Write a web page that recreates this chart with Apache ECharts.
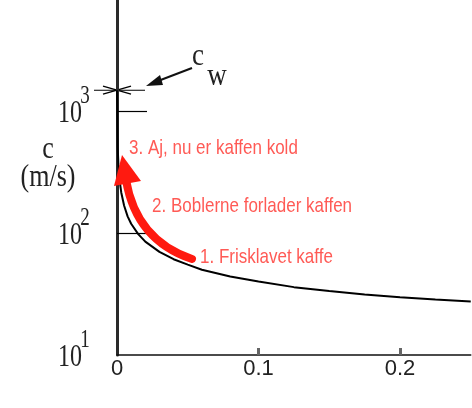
<!DOCTYPE html>
<html>
<head>
<meta charset="utf-8">
<script src="https://cdn.jsdelivr.net/npm/echarts@6/dist/echarts.min.js"></script>
<style>
  html, body { margin: 0; padding: 0; background: #fff; }
  #chart { width: 472px; height: 408px; }
</style>
</head>
<body>
<div id="chart"></div>
<script>
// gas fraction (x) and speed of sound c (m/s)
const xVals = [0, 0.0005, 0.001, 0.002, 0.003, 0.005, 0.0075, 0.01, 0.015, 0.02, 0.03, 0.04, 0.05, 0.06, 0.08, 0.1, 0.125, 0.15, 0.175, 0.2, 0.225, 0.25];
const cVals = [1480, 500, 365, 262, 215, 168, 137, 119, 98, 85, 70, 61, 55, 50, 44, 40, 36, 33.5, 31.3, 29.8, 28.5, 27.5];
const cw = 1480;

const xTicks = [0, 0.1, 0.2];
const yLabelTicks = [10, 100, 1000];
const yLineTicks = [100, 1000];

const notes = ['1. Frisklavet kaffe', '2. Boblerne forlader kaffen', '3. Aj, nu er kaffen kold'];

const chart = echarts.init(document.getElementById('chart'));

chart.setOption({
    animation: false,
    grid: { left: 117, right: 1.25, top: 0, bottom: 53 },
    xAxis: {
        type: 'value',
        min: 0,
        max: 0.25,
        splitLine: { show: false },
        axisLine: { lineStyle: { color: '#111', width: 1.5 } },
        axisTick: { inside: true, length: 7, customValues: [0.1, 0.2], lineStyle: { color: '#666', width: 3 } },
        axisLabel: {
            customValues: xTicks,
            margin: 3,
            color: '#222',
            fontSize: 22,
            fontFamily: 'Liberation Sans',
            formatter: (v) => String(v),
        },
    },
    yAxis: {
        type: 'log',
        logBase: 10,
        min: 10,
        max: 8128,
        splitLine: { show: false },
        axisLine: { lineStyle: { color: '#2a2a2a', width: 3 } },
        axisTick: { inside: true, length: 30, customValues: yLineTicks, lineStyle: { color: '#000', width: 1.2 } },
        axisLabel: { show: false },
    },
    series: [
        {
            type: 'line',
            data: xVals.map((x, i) => [x, cVals[i]]),
            showSymbol: false,
            lineStyle: { color: '#000', width: 2 },
            z: 1,
        },
    ],
});

// y-etiketter 10^n placeret via aksens skala
const serif = { fill: '#222', fontFamily: 'Liberation Serif', textAlign: 'center', textVerticalAlign: 'middle' };
const yLabels = [];
yLabelTicks.forEach((v) => {
    const py = chart.convertToPixel({ yAxisIndex: 0 }, v);
    yLabels.push({ type: 'text', x: 70, y: py + 3, scaleY: 1.3, style: Object.assign({ text: '10', fontSize: 24 }, serif) });
    yLabels.push({ type: 'text', x: 85, y: py - 14, scaleY: 1.3, style: Object.assign({ text: String(Math.round(Math.log10(v))), fontSize: 19 }, serif) });
});

// c_w markering og annoteringer
const p0 = chart.convertToPixel({ gridIndex: 0 }, [0, cw]);
const red = '#ff5a55';
const noteStyle = { fill: red, fontSize: 17, fontFamily: 'Liberation Sans', textVerticalAlign: 'middle' };

chart.setOption({
    graphic: yLabels.concat([
        // kryds ved c_w
        { type: 'line', shape: { x1: p0[0] - 14, y1: p0[1] - 4, x2: p0[0] + 14, y2: p0[1] + 4 }, style: { stroke: '#000', lineWidth: 1.3 } },
        { type: 'line', shape: { x1: p0[0] - 14, y1: p0[1] + 4, x2: p0[0] + 14, y2: p0[1] - 4 }, style: { stroke: '#000', lineWidth: 1.3 } },
        { type: 'line', shape: { x1: p0[0] - 23, y1: p0[1], x2: p0[0] + 28, y2: p0[1] }, style: { stroke: '#000', lineWidth: 1.2 } },
        // pil mod c_w
        { type: 'line', shape: { x1: 192, y1: 68, x2: 158, y2: 81 }, style: { stroke: '#111', lineWidth: 2 } },
        { type: 'polygon', shape: { points: [[146, 86], [160, 75], [163, 85]] }, style: { fill: '#111' } },
        { type: 'text', x: 198, y: 56, scaleY: 1.2, style: Object.assign({ text: 'c', fontSize: 27 }, serif) },
        { type: 'text', x: 217, y: 76, scaleY: 1.2, style: Object.assign({ text: 'w', fontSize: 27 }, serif) },
        // akse-titel
        { type: 'text', x: 48, y: 149, scaleY: 1.25, style: Object.assign({ text: 'c', fontSize: 26 }, serif) },
        { type: 'text', x: 48, y: 177, scaleY: 1.25, style: Object.assign({ text: '(m/s)', fontSize: 26 }, serif) },
        // rød pil
        { type: 'bezierCurve', shape: { x1: 192, y1: 259, cpx1: 150, cpy1: 245, cpx2: 132, cpy2: 215, x2: 126, y2: 180 }, style: { stroke: '#ff1a10', lineWidth: 8, lineCap: 'round', fill: null }, z: 10 },
        { type: 'polygon', shape: { points: [[122, 155], [114, 186], [141, 181]] }, style: { fill: '#ff1a10' }, z: 10 },
        // tekster
        { type: 'text', x: 200, y: 258, scaleY: 1.15, style: Object.assign({ text: notes[0] }, noteStyle) },
        { type: 'text', x: 152, y: 207, scaleY: 1.15, style: Object.assign({ text: notes[1] }, noteStyle) },
        { type: 'text', x: 129, y: 149, scaleY: 1.15, style: Object.assign({ text: notes[2] }, noteStyle) },
    ]),
});
</script>
</body>
</html>
